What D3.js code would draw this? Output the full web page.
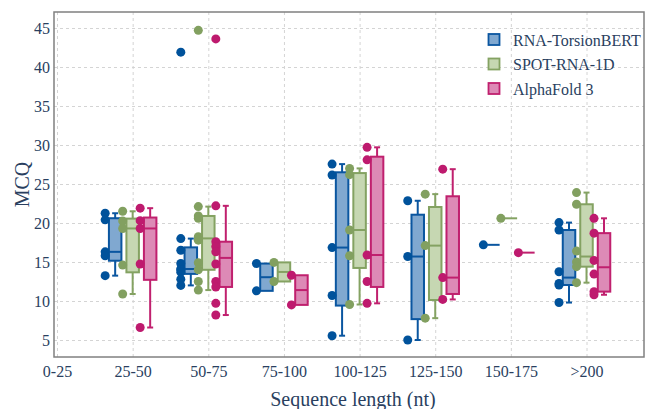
<!DOCTYPE html>
<html>
<head>
<meta charset="utf-8">
<script src="https://cdn.jsdelivr.net/npm/d3@7"></script>
<style>
  body { margin: 0; background: #fff; }
  svg text { font-family: "Liberation Serif", "Times New Roman", serif; fill: #2a3f5f; }
</style>
</head>
<body>
<script>
// categories and per-category MCQ values
var categories = ["0-25", "25-50", "50-75", "75-100", "100-125", "125-150", "150-175", ">200"];
var seriesNames = ["RNA-TorsionBERT", "SPOT-RNA-1D", "AlphaFold 3"];

var torsionBert = [
    [],
    [21.25, 20.4, 16.3, 15.8, 13.25],
    [41.9, 18.0, 16.5, 14.8, 14.1, 14.0, 13.7, 12.8, 12.0],
    [14.8, 11.3],
    [27.55, 26.15, 16.85, 10.7, 5.55],
    [22.85, 15.7, 5.0],
    [17.2],
    [20.05, 19.1, 13.75, 12.25, 12.05, 9.8]
];
var spotRna = [
    [],
    [21.5, 20.25, 19.3, 14.6, 10.9],
    [44.7, 22.1, 20.9, 20.6, 18.25, 17.8, 14.9, 14.0, 12.5, 11.4],
    [14.95, 12.5],
    [27.0, 26.2, 19.1, 15.8, 9.55],
    [23.7, 17.1, 7.8],
    [20.6],
    [23.9, 22.4, 16.4, 15.0, 14.4, 12.35]
];
var alphaFold = [
    [],
    [21.9, 20.3, 19.3, 14.75, 6.6],
    [43.6, 22.2, 17.6, 17.0, 16.3, 14.75, 12.5, 11.8, 9.7, 8.2],
    [13.3, 9.5],
    [29.7, 28.1, 15.9, 12.5, 9.7],
    [26.9, 13.0, 10.2],
    [16.2],
    [20.6, 18.7, 15.2, 13.45, 11.2, 10.8]
];
var yTicks = [5, 10, 15, 20, 25, 30, 35, 40, 45];

var series = [torsionBert, spotRna, alphaFold];
var strokeColors = ["#0a56a0", "#84a262", "#c0206e"];
var fillColors = ["#80a8d0", "#c6d7b2", "#dd8ab6"];
var pointColors = ["#00529b", "#82a060", "#be1a6e"];
var offsets = [-17.5, 0, 17.5];

var width = 647, height = 409;
var pLeft = 54, pRight = 644, pTop = 12, pBottom = 357;
var boxW = 12.5, capW = 6, pointShift = -10, r = 4.5;

var x = d3.scaleLinear().domain([-0.04, 7.76]).range([pLeft, pRight]);
var y = d3.scaleLinear().domain([2.82, 47.05]).range([pBottom, pTop]);

// plotly's default "linear" quartiles
function quart(s, p) {
    var n = s.length, pos = p * n + 0.5;
    if (pos <= 1) return s[0];
    if (pos >= n) return s[n - 1];
    var lo = Math.floor(pos), f = pos - lo;
    return s[lo - 1] + f * (s[lo] - s[lo - 1]);
}
function boxStats(vals) {
    var s = vals.slice().sort(d3.ascending);
    var q1 = quart(s, 0.25), med = quart(s, 0.5), q3 = quart(s, 0.75);
    var iqr = q3 - q1;
    var inside = s.filter(function(v) { return v >= q1 - 1.5 * iqr && v <= q3 + 1.5 * iqr; });
    return {q1: q1, med: med, q3: q3, lo: d3.min(inside), hi: d3.max(inside)};
}

var svg = d3.select("body").append("svg")
    .attr("width", width)
    .attr("height", height);

// grid
var yAxis = svg.append("g")
    .attr("transform", "translate(" + pLeft + ",0)")
    .call(d3.axisLeft(y).tickValues(yTicks).tickSize(-(pRight - pLeft)).tickPadding(4));
var xAxis = svg.append("g")
    .attr("transform", "translate(0," + pBottom + ")")
    .call(d3.axisBottom(x).tickValues(d3.range(categories.length))
        .tickFormat(function(i) { return categories[i]; })
        .tickSize(-(pBottom - pTop)).tickPadding(9));
[yAxis, xAxis].forEach(function(a) {
    a.select(".domain").remove();
    a.attr("font-family", null).attr("font-size", null);
    a.selectAll("line").attr("stroke", "#d4d4d4").attr("stroke-dasharray", "3,3");
    a.selectAll("text").style("font-size", "16px").attr("fill", "#2a3f5f");
});

// boxes
series.forEach(function(data, si) {
    var g = svg.append("g");
    data.forEach(function(vals, ci) {
        if (!vals.length) return;
        var st = boxStats(vals);
        var cx = x(ci) + offsets[si];
        var col = strokeColors[si];
        g.append("line")
            .attr("x1", cx).attr("x2", cx)
            .attr("y1", y(st.q3)).attr("y2", y(st.hi))
            .attr("stroke", col).attr("stroke-width", 2);
        g.append("line")
            .attr("x1", cx).attr("x2", cx)
            .attr("y1", y(st.q1)).attr("y2", y(st.lo))
            .attr("stroke", col).attr("stroke-width", 2);
        if (st.hi > st.q3) {
            g.append("line").attr("x1", cx - capW / 2).attr("x2", cx + capW / 2)
                .attr("y1", y(st.hi)).attr("y2", y(st.hi))
                .attr("stroke", col).attr("stroke-width", 2);
        }
        if (st.lo < st.q1) {
            g.append("line").attr("x1", cx - capW / 2).attr("x2", cx + capW / 2)
                .attr("y1", y(st.lo)).attr("y2", y(st.lo))
                .attr("stroke", col).attr("stroke-width", 2);
        }
        g.append("rect")
            .attr("x", cx - boxW / 2)
            .attr("y", y(st.q3))
            .attr("width", boxW)
            .attr("height", y(st.q1) - y(st.q3))
            .attr("fill", fillColors[si])
            .attr("stroke", col).attr("stroke-width", 2);
        g.append("line")
            .attr("x1", cx - boxW / 2).attr("x2", cx + boxW / 2)
            .attr("y1", y(st.med)).attr("y2", y(st.med))
            .attr("stroke", col).attr("stroke-width", 2);
        g.selectAll("circle.p" + ci)
            .data(vals)
            .enter()
            .append("circle")
            .attr("cx", cx + pointShift)
            .attr("cy", function(d) { return y(d); })
            .attr("r", r)
            .attr("fill", pointColors[si]);
    });
});

// frame
svg.append("rect")
    .attr("x", pLeft).attr("y", pTop)
    .attr("width", pRight - pLeft).attr("height", pBottom - pTop)
    .attr("fill", "none")
    .attr("stroke", "#808080")
    .attr("stroke-width", 1.5);

// titles
svg.append("text")
    .attr("x", (pLeft + pRight) / 2 + 4)
    .attr("y", 406)
    .attr("text-anchor", "middle")
    .style("font-size", "20px")
    .text("Sequence length (nt)");
svg.append("text")
    .attr("transform", "translate(29," + (pTop + pBottom) / 2 + ") rotate(-90)")
    .attr("text-anchor", "middle")
    .style("font-size", "20px")
    .text("MCQ");

// legend
var legend = svg.append("g");
seriesNames.forEach(function(name, i) {
    var by = 45.5 + i * 24.5;
    legend.append("rect")
        .attr("x", 488.5).attr("y", by - 11.5)
        .attr("width", 11).attr("height", 11)
        .attr("fill", fillColors[i])
        .attr("stroke", strokeColors[i]).attr("stroke-width", 1.8);
    legend.append("text")
        .attr("x", 513).attr("y", by)
        .style("font-size", "16px")
        .text(name);
});
</script>
</body>
</html>
